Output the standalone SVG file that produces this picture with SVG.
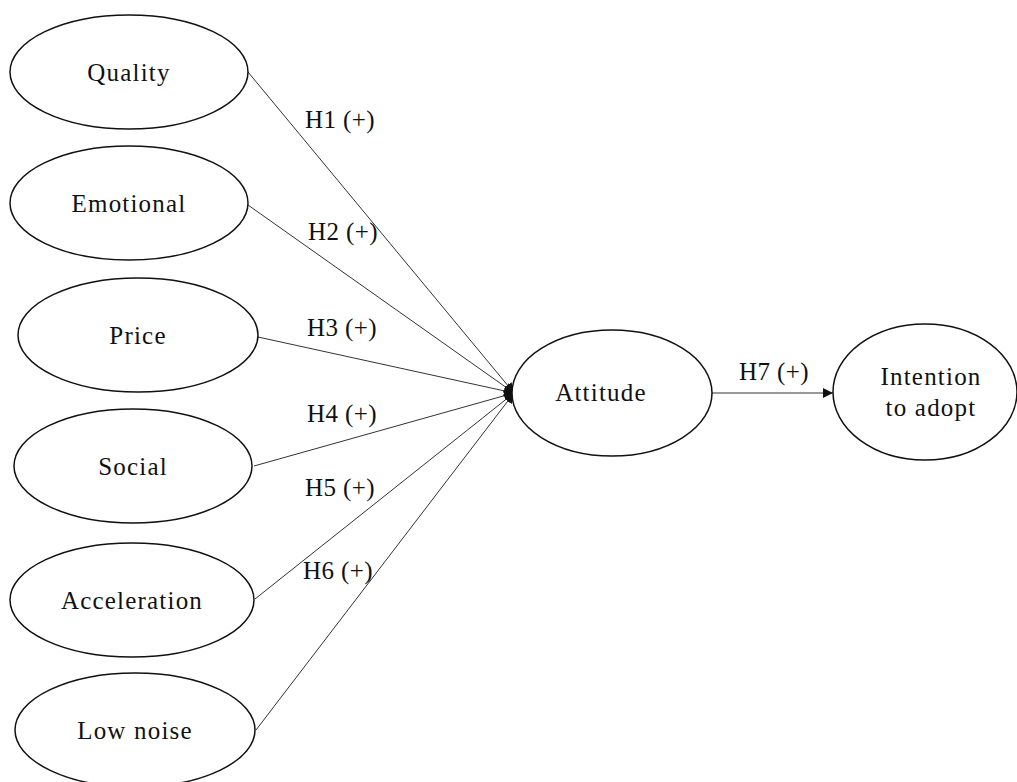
<svg xmlns="http://www.w3.org/2000/svg" width="1017" height="782" viewBox="0 0 1017 782">
<style>
.node ellipse{fill:#fff;stroke:#111;stroke-width:1.5}
text{font-family:"Liberation Serif","Times New Roman",serif;font-size:25px;fill:#111;letter-spacing:1.2px}
.node text{text-anchor:middle}
.lbl{letter-spacing:0.4px}
#connectors line{stroke:#333;stroke-width:1}
</style>
<defs>
<marker id="arr" viewBox="0 0 10 10" refX="10" refY="5" markerWidth="10" markerHeight="10" markerUnits="userSpaceOnUse" orient="auto">
<path d="M0,0 L10,5 L0,10 z" fill="#111"/>
</marker>
</defs>
<g id="connectors">
<line x1="248" y1="72" x2="514" y2="393" marker-end="url(#arr)"/>
<line x1="248" y1="205" x2="514" y2="393" marker-end="url(#arr)"/>
<line x1="258" y1="337" x2="514" y2="393" marker-end="url(#arr)"/>
<line x1="254" y1="466" x2="514" y2="393" marker-end="url(#arr)"/>
<line x1="255" y1="599" x2="514" y2="393" marker-end="url(#arr)"/>
<line x1="256" y1="730" x2="514" y2="393" marker-end="url(#arr)"/>
<line x1="712" y1="393" x2="833" y2="393" marker-end="url(#arr)"/>
<text class="lbl" x="305" y="128">H1 (+)</text>
<text class="lbl" x="308" y="240">H2 (+)</text>
<text class="lbl" x="307" y="336">H3 (+)</text>
<text class="lbl" x="307" y="422">H4 (+)</text>
<text class="lbl" x="305" y="496">H5 (+)</text>
<text class="lbl" x="303" y="579">H6 (+)</text>
<text class="lbl" x="739" y="380">H7 (+)</text>
</g>
<g id="quality" class="node"><ellipse cx="129" cy="72" rx="119" ry="57"/><text x="129" y="81">Quality</text></g>
<g id="emotional" class="node"><ellipse cx="129" cy="203" rx="119" ry="57"/><text x="129" y="212">Emotional</text></g>
<g id="price" class="node"><ellipse cx="138" cy="335" rx="120" ry="57"/><text x="138" y="344">Price</text></g>
<g id="social" class="node"><ellipse cx="133" cy="466" rx="119" ry="57"/><text x="133" y="475">Social</text></g>
<g id="acceleration" class="node"><ellipse cx="132" cy="600" rx="122" ry="57"/><text x="132" y="609">Acceleration</text></g>
<g id="lownoise" class="node"><ellipse cx="135" cy="730" rx="120" ry="57"/><text x="135" y="739">Low noise</text></g>
<g id="attitude" class="node"><ellipse cx="612" cy="393" rx="100" ry="63"/><text x="601" y="401">Attitude</text></g>
<g id="intention" class="node"><ellipse cx="925" cy="392" rx="92" ry="68"/><text x="931" y="385">Intention</text><text x="931" y="416">to adopt</text></g>
</svg>
